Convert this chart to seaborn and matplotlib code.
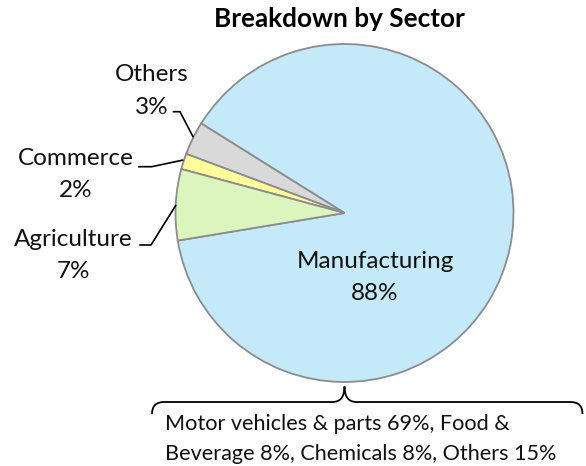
import matplotlib
matplotlib.use("Agg")
import matplotlib.pyplot as plt
import seaborn as sns
from matplotlib.path import Path
from matplotlib.patches import PathPatch

# ---- data ----
sectors = ["Manufacturing", "Others", "Commerce", "Agriculture"]
shares = [88.5, 3.2, 1.5, 6.8]
pct_labels = ["88%", "3%", "2%", "7%"]
colors = ["#C4E9F9", "#D9D9D9", "#FFFF99", "#DCF5BE"]
title = "Breakdown by Sector"
note_lines = ["Motor vehicles & parts 69%, Food &",
              "Beverage 8%, Chemicals 8%, Others 15%"]

sns.set_theme(style="white")
plt.rcParams["font.family"] = ["Lato", "DejaVu Sans"]

W, H = 586, 466
fig = plt.figure(figsize=(W / 100, H / 100), dpi=100)
ax = fig.add_axes([0, 0, 1, 1])


def Y(y):
    return H - y


cx, cy, r = 344.5, 213, 169
ax.pie(shares, colors=colors, startangle=189.4, counterclock=True,
       center=(cx, Y(cy)), radius=r,
       wedgeprops=dict(edgecolor="#8C8C8C", linewidth=1.3))
ax.set_xlim(0, W)
ax.set_ylim(0, H)
ax.set_aspect("equal")
ax.axis("off")

renderer = fig.canvas.get_renderer()


def fit(s, target, weight="normal"):
    t = ax.text(0, 0, s, fontsize=10, fontweight=weight)
    w = t.get_window_extent(renderer).width
    t.remove()
    return 10 * target / w


fs = fit("Manufacturing", 157)
fs_title = fit(title, 252, "bold")
fs_note = fit(note_lines[1], 390)

ax.text(339, Y(27), title, fontsize=fs_title, fontweight="bold",
        ha="center", va="baseline", color="#000000")

# label positions: (center x, baseline line1, baseline line2) in image px
label_pos = {
    "Manufacturing": (375, 268, 300),
    "Others": (152, 81, 114),
    "Commerce": (76, 165, 197),
    "Agriculture": (73, 246, 278),
}
for name, pct in zip(sectors, pct_labels):
    x, b1, b2 = label_pos[name]
    ax.text(x, Y(b1), name, fontsize=fs, ha="center", va="baseline", color="#111111")
    ax.text(x, Y(b2), pct, fontsize=fs, ha="center", va="baseline", color="#111111")

# leader lines
leaders = [
    [(172.7, 111.7), (180, 111.7), (193.3, 137.3)],
    [(138, 166.7), (151.7, 166.7), (183.3, 160)],
    [(139.3, 245), (151, 245), (176, 205)],
]
for pts in leaders:
    ax.plot([p[0] for p in pts], [Y(p[1]) for p in pts], color="black", lw=1.2,
            solid_capstyle="butt")

# curly brace under pie
yb, ytip, yend = 402, 386.5, 414
xl, xr, xt = 152, 582.5, 344.5
verts = [
    (xl, yend), (xl, yb), (xl + 12, yb),
    (xt - 12, yb),
    (xt, yb), (xt, ytip),
    (xt, yb), (xt + 12, yb),
    (xr - 12, yb),
    (xr, yb), (xr, yend),
]
codes = [Path.MOVETO, Path.CURVE3, Path.CURVE3,
         Path.LINETO,
         Path.CURVE3, Path.CURVE3,
         Path.CURVE3, Path.CURVE3,
         Path.LINETO,
         Path.CURVE3, Path.CURVE3]
verts = [(vx, Y(vy)) for vx, vy in verts]
ax.add_patch(PathPatch(Path(verts, codes), fill=False, edgecolor="black", lw=1.3))

ax.text(165, Y(430), note_lines[0], fontsize=fs_note, ha="left", va="baseline", color="#111111")
ax.text(165, Y(460), note_lines[1], fontsize=fs_note, ha="left", va="baseline", color="#111111")

fig.savefig("out.png", dpi=100, facecolor="white")
